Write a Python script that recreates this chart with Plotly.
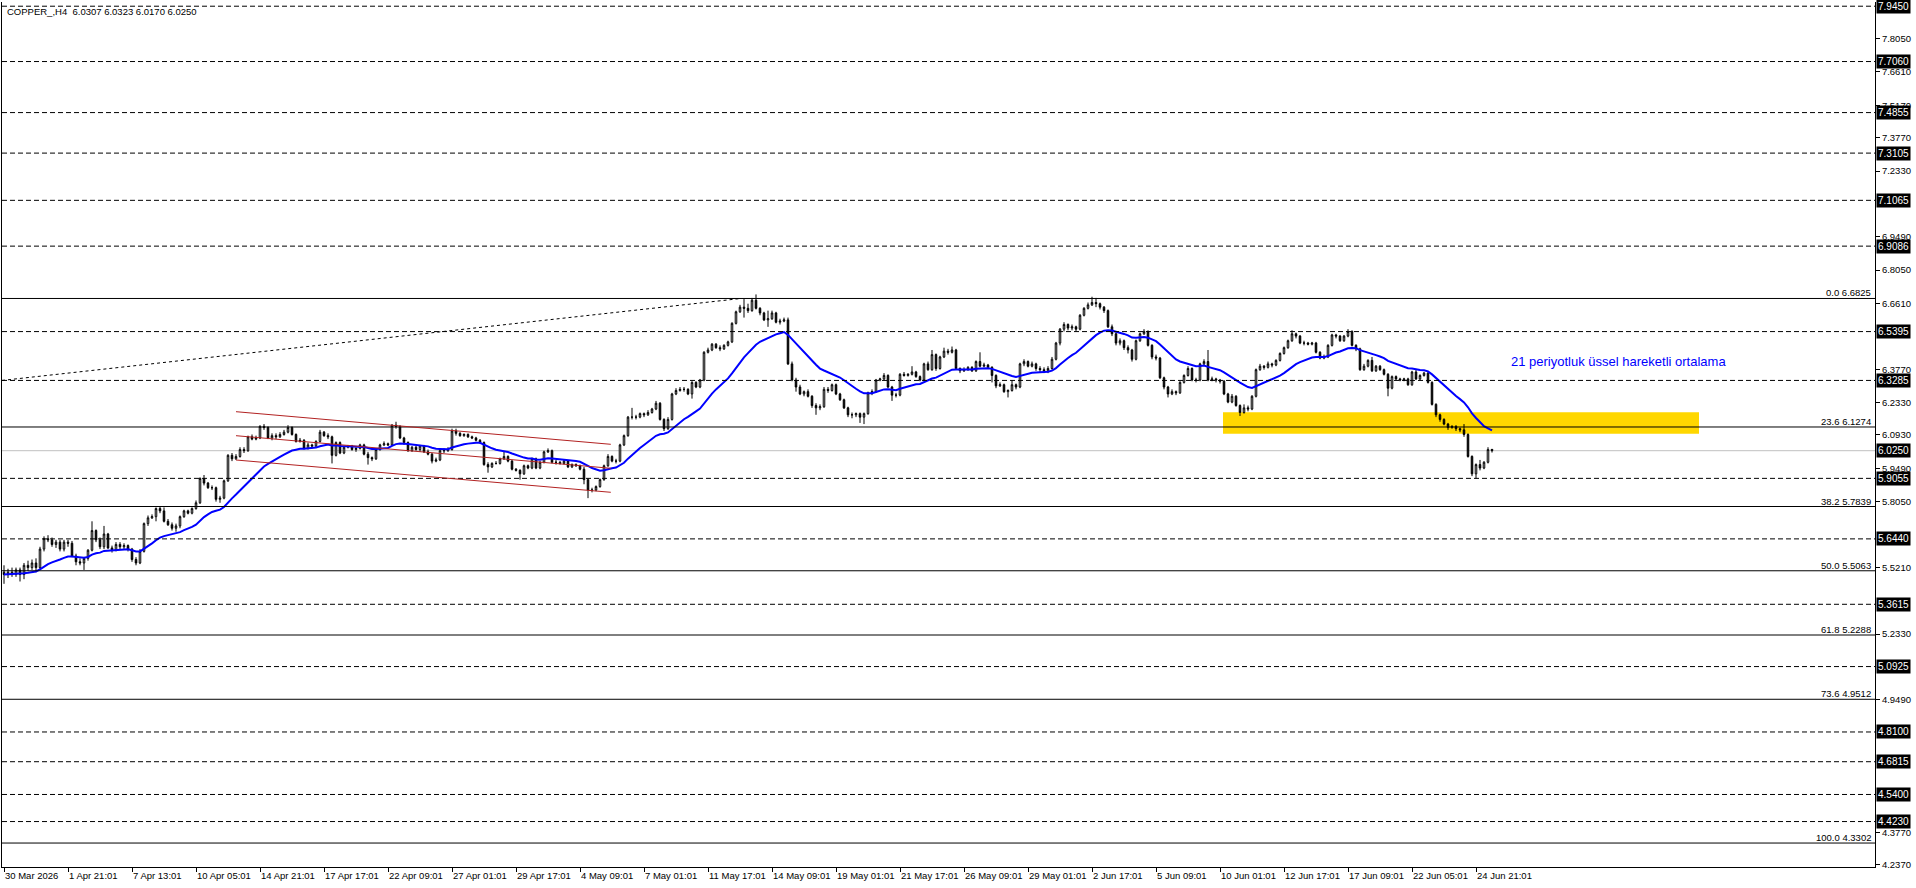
import plotly.graph_objects as go
import pandas as pd

# ---------------- data ----------------
opens = [
 5.50,5.49,5.50,5.49,5.51,5.49,5.53,5.52,5.54,5.52,
 5.60,5.645,5.64,5.62,5.63,5.60,5.63,5.625,5.57,5.545,
 5.54,5.56,5.595,5.68,5.64,5.61,5.665,5.605,5.595,5.62,
 5.61,5.615,5.60,5.555,5.54,5.59,5.71,5.735,5.74,5.775,
 5.765,5.72,5.705,5.69,5.70,5.74,5.765,5.755,5.775,5.80,
 5.905,5.885,5.865,5.865,5.815,5.82,5.895,6.005,5.99,6.00,
 6.03,6.025,6.085,6.075,6.08,6.13,6.125,6.08,6.09,6.085,
 6.095,6.105,6.125,6.095,6.065,6.07,6.035,6.05,6.045,6.065,
 6.105,6.09,6.085,6.005,6.06,6.015,6.04,6.045,6.03,6.035,
 6.05,6.01,5.995,5.99,6.03,6.05,6.055,6.05,6.135,6.13,
 6.08,6.06,6.025,6.04,6.03,6.045,6.02,6.01,5.98,5.985,
 6.025,6.025,6.03,6.11,6.10,6.09,6.095,6.085,6.08,6.07,
 6.06,5.965,5.955,5.97,5.97,5.99,6.00,5.98,5.945,5.94,
 5.925,5.96,5.95,5.99,5.95,5.975,6.02,6.025,5.975,5.975,
 5.97,5.98,5.955,5.965,5.96,5.945,5.90,5.855,5.855,5.87,
 5.90,5.96,6.00,5.98,5.98,6.05,6.09,6.17,6.17,6.17,
 6.185,6.18,6.19,6.205,6.23,6.16,6.12,6.16,6.27,6.285,
 6.29,6.29,6.27,6.32,6.30,6.33,6.45,6.46,6.485,6.47,
 6.465,6.48,6.495,6.575,6.625,6.645,6.64,6.63,6.675,6.64,
 6.62,6.59,6.595,6.62,6.58,6.585,6.59,6.40,6.33,6.30,
 6.27,6.28,6.26,6.22,6.21,6.215,6.29,6.285,6.31,6.27,
 6.245,6.21,6.18,6.18,6.185,6.17,6.185,6.275,6.28,6.33,
 6.335,6.35,6.30,6.265,6.265,6.355,6.35,6.355,6.365,6.345,
 6.33,6.40,6.375,6.44,6.38,6.43,6.455,6.45,6.46,6.38,
 6.37,6.375,6.385,6.37,6.41,6.39,6.395,6.385,6.35,6.305,
 6.31,6.28,6.285,6.31,6.30,6.40,6.41,6.39,6.40,6.38,
 6.375,6.37,6.38,6.42,6.49,6.55,6.57,6.555,6.56,6.55,
 6.61,6.64,6.655,6.665,6.66,6.645,6.63,6.56,6.53,6.49,
 6.50,6.47,6.46,6.42,6.50,6.53,6.54,6.48,6.43,6.425,
 6.34,6.30,6.27,6.28,6.275,6.32,6.35,6.38,6.33,6.33,
 6.40,6.41,6.33,6.335,6.33,6.325,6.27,6.235,6.26,6.22,
 6.19,6.21,6.205,6.26,6.375,6.39,6.385,6.40,6.395,6.415,
 6.445,6.47,6.50,6.53,6.52,6.49,6.49,6.485,6.49,6.45,
 6.425,6.43,6.48,6.525,6.52,6.50,6.52,6.54,6.48,6.465,
 6.375,6.39,6.415,6.37,6.39,6.375,6.355,6.295,6.345,6.335,
 6.33,6.335,6.31,6.365,6.335,6.35,6.36,6.32,6.225,6.18,
 6.16,6.14,6.125,6.13,6.12,6.115,6.095,6.00,5.925,5.965,
 5.95,5.975,6.0307,
]
highs = [
 5.53,5.515,5.52,5.52,5.52,5.54,5.55,5.555,5.56,5.61,
 5.655,5.66,5.65,5.64,5.64,5.64,5.64,5.635,5.58,5.56,
 5.565,5.60,5.72,5.685,5.65,5.70,5.67,5.615,5.63,5.63,
 5.625,5.62,5.605,5.565,5.60,5.715,5.745,5.75,5.78,5.785,
 5.78,5.73,5.715,5.71,5.745,5.77,5.77,5.78,5.81,5.91,
 5.92,5.89,5.875,5.87,5.83,5.90,6.01,6.015,6.01,6.04,
 6.04,6.09,6.095,6.09,6.135,6.14,6.13,6.10,6.10,6.105,
 6.115,6.135,6.13,6.10,6.08,6.075,6.06,6.055,6.07,6.115,
 6.11,6.10,6.09,6.065,6.065,6.045,6.05,6.05,6.04,6.055,
 6.055,6.02,6.00,6.035,6.055,6.065,6.06,6.14,6.15,6.135,
 6.085,6.065,6.045,6.045,6.05,6.05,6.03,6.015,5.995,6.03,
 6.035,6.04,6.12,6.12,6.105,6.10,6.10,6.09,6.085,6.075,
 6.065,5.975,5.975,5.98,5.995,6.02,6.005,5.985,5.95,5.945,
 5.965,5.965,5.995,5.995,5.98,6.025,6.035,6.03,5.985,5.98,
 5.985,5.985,5.97,5.97,5.965,5.955,5.905,5.865,5.875,5.905,
 5.965,6.01,6.005,5.99,6.055,6.095,6.175,6.21,6.18,6.19,
 6.19,6.20,6.21,6.24,6.235,6.165,6.17,6.275,6.295,6.30,
 6.30,6.295,6.325,6.325,6.335,6.455,6.47,6.49,6.49,6.48,
 6.485,6.50,6.58,6.63,6.655,6.68,6.66,6.685,6.70,6.645,
 6.625,6.63,6.63,6.625,6.595,6.60,6.60,6.41,6.34,6.31,
 6.285,6.29,6.265,6.23,6.225,6.30,6.30,6.315,6.315,6.275,
 6.25,6.215,6.19,6.19,6.19,6.19,6.28,6.29,6.335,6.34,
 6.36,6.355,6.305,6.275,6.36,6.365,6.36,6.39,6.37,6.35,
 6.405,6.41,6.46,6.445,6.435,6.47,6.465,6.475,6.465,6.385,
 6.385,6.39,6.39,6.415,6.45,6.405,6.40,6.39,6.355,6.32,
 6.315,6.29,6.33,6.315,6.405,6.42,6.415,6.41,6.405,6.39,
 6.385,6.39,6.43,6.495,6.555,6.58,6.575,6.57,6.565,6.615,
 6.645,6.665,6.69,6.685,6.665,6.65,6.635,6.57,6.535,6.51,
 6.505,6.48,6.465,6.505,6.535,6.55,6.545,6.485,6.44,6.43,
 6.345,6.305,6.29,6.285,6.325,6.355,6.39,6.385,6.34,6.405,
 6.42,6.46,6.345,6.34,6.335,6.33,6.275,6.27,6.265,6.225,
 6.225,6.22,6.265,6.38,6.40,6.395,6.41,6.405,6.42,6.45,
 6.475,6.505,6.545,6.535,6.525,6.50,6.495,6.495,6.495,6.455,
 6.44,6.485,6.53,6.53,6.525,6.525,6.55,6.545,6.485,6.47,
 6.40,6.42,6.43,6.395,6.395,6.38,6.36,6.35,6.35,6.34,
 6.34,6.34,6.37,6.375,6.355,6.365,6.365,6.325,6.23,6.185,
 6.165,6.145,6.135,6.135,6.125,6.14,6.10,6.005,5.97,5.985,
 5.98,6.04,6.0323,
]
lows = [
 5.45,5.475,5.48,5.48,5.46,5.47,5.505,5.51,5.50,5.51,
 5.59,5.63,5.61,5.605,5.59,5.59,5.61,5.565,5.53,5.53,
 5.51,5.55,5.59,5.63,5.60,5.60,5.60,5.585,5.59,5.60,
 5.60,5.59,5.545,5.53,5.535,5.585,5.70,5.73,5.72,5.755,
 5.715,5.70,5.68,5.675,5.69,5.735,5.75,5.75,5.77,5.795,
 5.875,5.86,5.855,5.805,5.80,5.815,5.89,5.98,5.985,5.995,
 6.015,6.02,6.07,6.07,6.075,6.115,6.075,6.07,6.075,6.08,
 6.09,6.10,6.09,6.06,6.06,6.03,6.03,6.035,6.04,6.06,
 6.085,6.075,5.97,6.00,6.01,6.01,6.035,6.025,6.02,6.03,
 6.005,5.965,5.98,5.985,6.025,6.045,6.045,6.045,6.12,6.075,
 6.05,6.02,6.02,6.025,6.02,6.015,6.005,5.97,5.975,5.98,
 6.015,6.02,6.025,6.09,6.085,6.085,6.08,6.075,6.065,6.055,
 5.96,5.93,5.95,5.965,5.965,5.985,5.975,5.94,5.935,5.90,
 5.92,5.945,5.945,5.945,5.945,5.97,6.015,5.97,5.965,5.965,
 5.965,5.95,5.95,5.955,5.94,5.88,5.82,5.845,5.85,5.865,
 5.895,5.955,5.975,5.97,5.975,6.045,6.085,6.16,6.16,6.165,
 6.17,6.175,6.185,6.20,6.155,6.11,6.115,6.155,6.265,6.28,
 6.28,6.265,6.25,6.295,6.295,6.325,6.445,6.455,6.465,6.455,
 6.46,6.475,6.49,6.57,6.62,6.60,6.62,6.625,6.635,6.61,
 6.585,6.56,6.59,6.575,6.57,6.58,6.395,6.325,6.28,6.265,
 6.26,6.255,6.21,6.18,6.20,6.21,6.275,6.28,6.265,6.24,
 6.205,6.17,6.165,6.17,6.145,6.14,6.18,6.265,6.275,6.325,
 6.33,6.295,6.24,6.255,6.26,6.345,6.345,6.35,6.34,6.325,
 6.325,6.37,6.37,6.37,6.375,6.425,6.44,6.445,6.375,6.36,
 6.365,6.37,6.365,6.365,6.385,6.385,6.38,6.32,6.295,6.30,
 6.275,6.255,6.28,6.29,6.295,6.39,6.385,6.385,6.37,6.365,
 6.36,6.36,6.375,6.415,6.48,6.54,6.545,6.545,6.54,6.545,
 6.605,6.635,6.65,6.645,6.635,6.62,6.555,6.52,6.48,6.48,
 6.46,6.445,6.41,6.415,6.495,6.525,6.475,6.42,6.415,6.335,
 6.29,6.255,6.265,6.265,6.27,6.315,6.345,6.325,6.32,6.325,
 6.395,6.325,6.325,6.32,6.315,6.265,6.23,6.23,6.215,6.175,
 6.185,6.195,6.20,6.255,6.37,6.375,6.38,6.385,6.39,6.41,
 6.44,6.465,6.495,6.51,6.485,6.48,6.48,6.48,6.445,6.42,
 6.42,6.425,6.475,6.51,6.495,6.495,6.515,6.475,6.455,6.37,
 6.37,6.385,6.365,6.365,6.37,6.35,6.26,6.29,6.33,6.325,
 6.325,6.305,6.305,6.33,6.33,6.345,6.315,6.22,6.17,6.15,
 6.135,6.115,6.12,6.11,6.105,6.085,5.995,5.915,5.905,5.94,
 5.945,5.97,6.017,
]
closes = [
 5.49,5.50,5.49,5.51,5.49,5.53,5.52,5.54,5.52,5.60,
 5.645,5.64,5.62,5.63,5.60,5.63,5.625,5.57,5.545,5.54,
 5.56,5.595,5.68,5.64,5.61,5.665,5.605,5.595,5.62,5.61,
 5.615,5.60,5.555,5.54,5.59,5.71,5.735,5.74,5.775,5.765,
 5.72,5.705,5.69,5.70,5.74,5.765,5.755,5.775,5.80,5.905,
 5.885,5.865,5.865,5.815,5.82,5.895,6.005,5.99,6.00,6.03,
 6.025,6.085,6.075,6.08,6.13,6.125,6.08,6.09,6.085,6.095,
 6.105,6.125,6.095,6.065,6.07,6.035,6.05,6.045,6.065,6.105,
 6.09,6.085,6.005,6.06,6.015,6.04,6.045,6.03,6.035,6.05,
 6.01,5.995,5.99,6.03,6.05,6.055,6.05,6.135,6.13,6.08,
 6.06,6.025,6.04,6.03,6.045,6.02,6.01,5.98,5.985,6.025,
 6.025,6.03,6.11,6.10,6.09,6.095,6.085,6.08,6.07,6.06,
 5.965,5.955,5.97,5.97,5.99,6.00,5.98,5.945,5.94,5.925,
 5.96,5.95,5.99,5.95,5.975,6.02,6.025,5.975,5.975,5.97,
 5.98,5.955,5.965,5.96,5.945,5.90,5.855,5.855,5.87,5.90,
 5.96,6.00,5.98,5.98,6.05,6.09,6.17,6.17,6.17,6.185,
 6.18,6.19,6.205,6.23,6.16,6.12,6.16,6.27,6.285,6.29,
 6.29,6.27,6.32,6.30,6.33,6.45,6.46,6.485,6.47,6.465,
 6.48,6.495,6.575,6.625,6.645,6.64,6.63,6.675,6.64,6.62,
 6.59,6.595,6.62,6.58,6.585,6.59,6.40,6.33,6.30,6.27,
 6.28,6.26,6.22,6.21,6.215,6.29,6.285,6.31,6.27,6.245,
 6.21,6.18,6.18,6.185,6.17,6.185,6.275,6.28,6.33,6.335,
 6.35,6.30,6.265,6.265,6.355,6.35,6.355,6.365,6.345,6.33,
 6.40,6.375,6.44,6.38,6.43,6.455,6.45,6.46,6.38,6.37,
 6.375,6.385,6.37,6.41,6.39,6.395,6.385,6.35,6.305,6.31,
 6.28,6.285,6.31,6.30,6.40,6.41,6.39,6.40,6.38,6.375,
 6.37,6.38,6.42,6.49,6.55,6.57,6.555,6.56,6.55,6.61,
 6.64,6.655,6.665,6.66,6.645,6.63,6.56,6.53,6.49,6.50,
 6.47,6.46,6.42,6.50,6.53,6.54,6.48,6.43,6.425,6.34,
 6.30,6.27,6.28,6.275,6.32,6.35,6.38,6.33,6.33,6.40,
 6.41,6.33,6.335,6.33,6.325,6.27,6.235,6.26,6.22,6.19,
 6.21,6.205,6.26,6.375,6.39,6.385,6.40,6.395,6.415,6.445,
 6.47,6.50,6.53,6.52,6.49,6.49,6.485,6.49,6.45,6.425,
 6.43,6.48,6.525,6.52,6.50,6.52,6.54,6.48,6.465,6.375,
 6.39,6.415,6.37,6.39,6.375,6.355,6.295,6.345,6.335,6.33,
 6.335,6.31,6.365,6.335,6.35,6.36,6.32,6.225,6.18,6.16,
 6.14,6.125,6.13,6.12,6.115,6.095,6.00,5.925,5.965,5.95,
 5.975,6.03,6.025,
]

x_tick_bars = [0, 16, 32, 48, 64, 80, 96, 112, 128, 144, 160, 176, 192, 208,
               224, 240, 256, 272, 288, 304, 320, 336, 352, 368]
x_tick_labels = ["30 Mar 2026", "1 Apr 21:01", "7 Apr 13:01", "10 Apr 05:01",
                 "14 Apr 21:01", "17 Apr 17:01", "22 Apr 09:01", "27 Apr 01:01",
                 "29 Apr 17:01", "4 May 09:01", "7 May 01:01", "11 May 17:01",
                 "14 May 09:01", "19 May 01:01", "21 May 17:01", "26 May 09:01",
                 "29 May 01:01", "2 Jun 17:01", "5 Jun 09:01", "10 Jun 01:01",
                 "12 Jun 17:01", "17 Jun 09:01", "22 Jun 05:01", "24 Jun 21:01"]
y_ticks = [7.8050, 7.6610, 7.5170, 7.3770, 7.2330, 6.9490, 6.8050, 6.6610,
           6.3770, 6.2330, 6.0930, 5.9490, 5.8050, 5.5210,
           5.2330, 4.9490, 4.3770, 4.2370]
dashed_levels = [7.9450, 7.7060, 7.4855, 7.3105, 7.1065, 6.9086, 6.5395, 6.3285,
                 5.9055, 5.6440, 5.3615, 5.0925, 4.8100, 4.6815, 4.5400, 4.4230]
fib_ratios = ["0.0", "23.6", "38.2", "50.0", "61.8", "73.6", "100.0"]
fib_levels = [6.6825, 6.1274, 5.7839, 5.5063, 5.2288, 4.9512, 4.3302]
current_price = 6.0250
channel_bars = [58.0, 151.7]
channel_top = [6.1935, 6.0526]
channel_mid = [6.0898, 5.9490]
channel_bot = [5.9848, 5.8453]
trend_bars = [-0.5, 184.25]
trend_prices = [6.3285, 6.6825]
zone_bars = [304.75, 423.75]
zone_prices = [6.098, 6.191]
ema_period = 21
header_text = "COPPER_,H4  6.0307 6.0323 6.0170 6.0250"
ema_note = "21 periyotluk üssel hareketli ortalama"

# ---------------- figure ----------------
FONT = "Liberation Sans, Arial, sans-serif"
bars = list(range(len(closes)))
ema = pd.Series(closes).ewm(span=ema_period, adjust=False).mean()

fig = go.Figure()
fig.add_trace(go.Candlestick(
    x=bars, open=opens, high=highs, low=lows, close=closes,
    increasing=dict(line=dict(color="black", width=1), fillcolor="white"),
    decreasing=dict(line=dict(color="black", width=1), fillcolor="black"),
    whiskerwidth=0, hoverinfo="skip", showlegend=False))
fig.add_trace(go.Scatter(x=bars, y=ema, mode="lines",
                         line=dict(color="#0000FF", width=2),
                         hoverinfo="skip", showlegend=False))

shapes = []
shapes.append(dict(type="rect", xref="x", yref="y", x0=zone_bars[0], x1=zone_bars[1],
                   y0=zone_prices[0], y1=zone_prices[1], fillcolor="#FFD700",
                   line=dict(width=0), layer="below"))
shapes.append(dict(type="line", xref="paper", yref="y", x0=0, x1=1,
                   y0=current_price, y1=current_price,
                   line=dict(color="#C0C0C0", width=1), layer="below"))
for v in dashed_levels:
    shapes.append(dict(type="line", xref="paper", yref="y", x0=0, x1=1, y0=v, y1=v,
                       line=dict(color="black", width=1, dash="5px,3px")))
for v in fib_levels:
    shapes.append(dict(type="line", xref="paper", yref="y", x0=0, x1=1, y0=v, y1=v,
                       line=dict(color="black", width=1)))
for ys in (channel_top, channel_mid, channel_bot):
    shapes.append(dict(type="line", xref="x", yref="y", x0=channel_bars[0], x1=channel_bars[1],
                       y0=ys[0], y1=ys[1], line=dict(color="#B22222", width=1)))
shapes.append(dict(type="line", xref="x", yref="y", x0=trend_bars[0], x1=trend_bars[1],
                   y0=trend_prices[0], y1=trend_prices[1],
                   line=dict(color="black", width=1, dash="3px,3px")))
fig.update_layout(shapes=shapes)

ann = []
for v in dashed_levels + [current_price]:
    ann.append(dict(xref="paper", yref="y", x=1, y=v, xanchor="left", yanchor="middle",
                    xshift=1, text=f"{v:.4f}", showarrow=False, bgcolor="black",
                    borderpad=1, font=dict(family=FONT, size=10, color="white")))
for r, v in zip(fib_ratios, fib_levels):
    ann.append(dict(xref="paper", yref="y", x=1, y=v, xanchor="right", yanchor="bottom",
                    xshift=-2, yshift=-2, text=f"{r} {v:.4f}", showarrow=False,
                    font=dict(family=FONT, size=9.5, color="black")))
ann.append(dict(xref="paper", yref="paper", x=0, y=1, xanchor="left", yanchor="top",
                xshift=3, yshift=-2, text=header_text, showarrow=False,
                font=dict(family=FONT, size=9.5, color="black")))
ann.append(dict(xref="x", yref="y", x=376.25, y=6.409, xanchor="left", yanchor="middle",
                text=ema_note, showarrow=False,
                font=dict(family=FONT, size=13, color="#0000FF")))
fig.update_layout(annotations=ann)

fig.update_layout(
    width=1916, height=888,
    margin=dict(l=2, r=41, t=2, b=21, pad=0, autoexpand=False),
    paper_bgcolor="white", plot_bgcolor="white",
    showlegend=False, hovermode=False, boxgap=0.45,
    font=dict(family=FONT, size=9.5, color="black"),
    xaxis=dict(range=[-0.5, 467.75], showgrid=False, zeroline=False, automargin=False,
               rangeslider=dict(visible=False), showline=True, linecolor="black",
               linewidth=1, ticks="outside", ticklen=4, tickcolor="black",
               tickvals=x_tick_bars, ticktext=x_tick_labels, tickangle=0,
               ticklabelposition="outside right",
               tickfont=dict(family=FONT, size=9.5, color="black")),
    yaxis=dict(range=[4.2267, 7.9632], side="right", showgrid=False, zeroline=False,
               automargin=False,
               showline=True, mirror=True, linecolor="black", linewidth=1,
               ticks="outside", ticklen=4, tickcolor="black",
               tickvals=y_ticks, tickformat=".4f",
               tickfont=dict(family=FONT, size=9.5, color="black")),
)

fig.write_html("out.html", config={"displayModeBar": False})
